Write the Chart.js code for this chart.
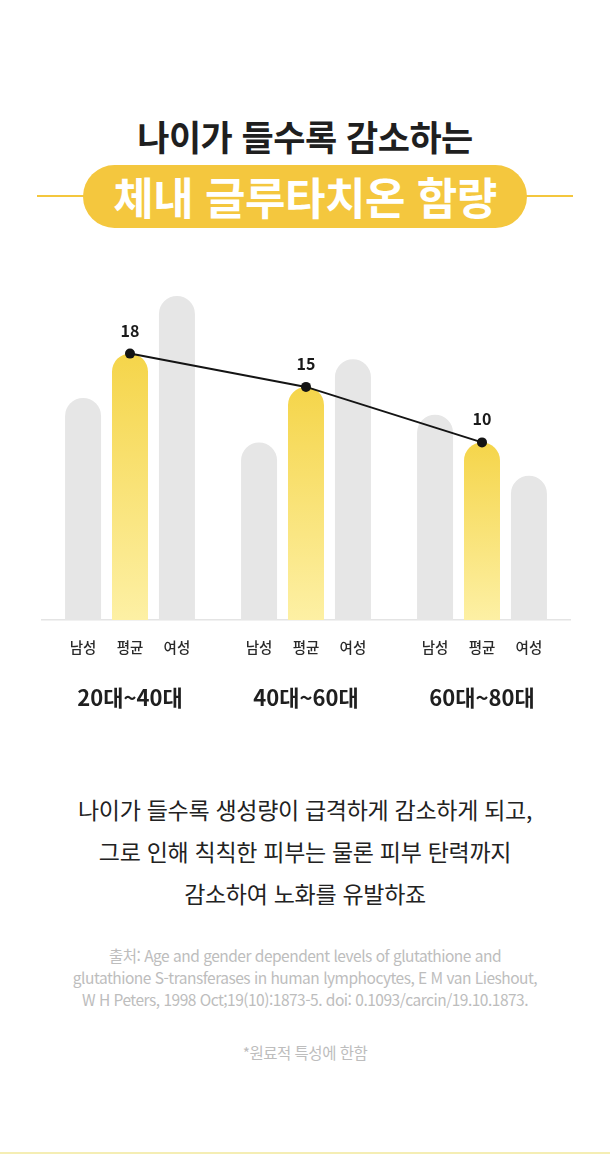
<!DOCTYPE html>
<html lang="ko">
<head>
<meta charset="utf-8">
<script src="https://cdn.jsdelivr.net/npm/chart.js@4.4.1/dist/chart.umd.min.js"></script>
<style>
  html, body { margin: 0; padding: 0; background: #fff; }
  body { width: 610px; height: 1154px; position: relative; overflow: hidden;
         font-family: "Noto Sans CJK KR", "Noto Sans", sans-serif; color: #222; }
  .title { position: absolute; top: 113px; left: 0; width: 610px; text-align: center;
           font-size: 35px; font-weight: 700; letter-spacing: -0.5px; line-height: 46px; color: #1f1f1f; }
  .rule { position: absolute; top: 195px; height: 2px; background: #f4c73e; }
  .pill { position: absolute; top: 165px; left: 83px; width: 444px; height: 63px; border-radius: 32px;
          background: #f4c73e; color: #fff; text-align: center; font-size: 44px; font-weight: 700;
          line-height: 63px; letter-spacing: -0.5px; }
  #wrap { position: absolute; top: 260px; left: 0; width: 610px; height: 470px; }
  .body { position: absolute; top: 788px; left: 0; width: 610px; text-align: center;
          font-size: 23px; line-height: 42px; letter-spacing: -0.3px; color: #222; }
  .src { position: absolute; top: 944px; left: 0; width: 610px; text-align: center;
         font-size: 15.5px; line-height: 22px; letter-spacing: -0.5px; color: #bdbdbd; }
  .note { position: absolute; top: 1041px; left: 0; width: 610px; text-align: center;
          font-size: 15.5px; line-height: 22px; letter-spacing: -0.5px; color: #bdbdbd; }
  .bottom { position: absolute; top: 1152px; left: 0; width: 610px; height: 2px; background: #f5eeb4; }
</style>
</head>
<body>
<div class="title">나이가 들수록 감소하는</div>
<div class="rule" style="left:37px;width:48px"></div>
<div class="rule" style="left:525px;width:48px"></div>
<div class="pill">체내 글루타치온 함량</div>

<div id="wrap"><canvas id="chart" width="610" height="470"></canvas></div>

<div class="body">나이가 들수록 생성량이 급격하게 감소하게 되고,<br>그로 인해 칙칙한 피부는 물론 피부 탄력까지<br>감소하여 노화를 유발하죠</div>
<div class="src">출처: Age and gender dependent levels of glutathione and<br>glutathione S-transferases in human lymphocytes, E M van Lieshout,<br>W H Peters, 1998 Oct;19(10):1873-5. doi: 0.1093/carcin/19.10.1873.</div>
<div class="note">*원료적 특성에 한함</div>
<div class="bottom"></div>

<script>
// 연령대
const ageGroups = ['20대~40대', '40대~60대', '60대~80대']
// 막대 값
const maleValues = [14, 10, 12.5]
const avgValues = [18, 15, 10]
const femaleValues = [23.2, 17.5, 7]
const barNames = ['남성', '평균', '여성']

const axisMin = -6
const axisMax = 24

const gray = '#e6e6e6'

function avgGradient(context) {
    const chart = context.chart
    const { ctx, chartArea, scales } = chart
    if (!chartArea || !context.parsed) return '#f7dc62'
    const top = scales.y.getPixelForValue(context.parsed.y)
    const g = ctx.createLinearGradient(0, top, 0, chartArea.bottom)
    g.addColorStop(0, '#f5d54a')
    g.addColorStop(1, '#fdf0a4')
    return g
}

/*라벨 그리기*/
const labelPlugin = {
    id: 'labels',
    afterDatasetsDraw(chart) {
        const { ctx, chartArea } = chart
        ctx.save()
        ctx.textAlign = 'center'
        ctx.textBaseline = 'middle'
        // 막대 아래 이름
        ctx.font = '500 14.5px "Noto Sans CJK KR"'
        ctx.fillStyle = '#2a2a2a'
        chart.data.datasets.forEach((ds, i) => {
            if (ds.type === 'line') return
            chart.getDatasetMeta(i).data.forEach(bar => {
                ctx.fillText(ds.label, bar.x, chartArea.bottom + 27)
            })
        })
        // 꺾은선 값
        ctx.font = '600 16px "Noto Sans CJK KR"'
        ctx.fillStyle = '#1a1a1a'
        const lineIdx = chart.data.datasets.findIndex(ds => ds.type === 'line')
        chart.getDatasetMeta(lineIdx).data.forEach((pt, j) => {
            ctx.fillText(chart.data.datasets[lineIdx].data[j], pt.x, pt.y - 23)
        })
        ctx.restore()
    }
}

const barCommon = {
    type: 'bar',
    base: axisMin,
    borderRadius: 18,
    borderSkipped: 'start',
    barPercentage: 0.767,
    categoryPercentage: 0.8,
    order: 2
}

new Chart(document.getElementById('chart'), {
    data: {
        labels: ageGroups,
        datasets: [
            {
                type: 'line',
                label: '평균 추이',
                data: avgValues,
                borderColor: '#141414',
                borderWidth: 2,
                pointRadius: 5,
                pointBackgroundColor: '#141414',
                pointBorderWidth: 0,
                tension: 0,
                order: 0
            },
            Object.assign({}, barCommon, { label: barNames[0], data: maleValues, backgroundColor: gray }),
            Object.assign({}, barCommon, { label: barNames[1], data: avgValues, backgroundColor: avgGradient }),
            Object.assign({}, barCommon, { label: barNames[2], data: femaleValues, backgroundColor: gray })
        ]
    },
    options: {
        responsive: false,
        animation: false,
        layout: { padding: { left: 42, right: 40, top: 27, bottom: 0 } },
        plugins: {
            legend: { display: false },
            tooltip: { enabled: false }
        },
        scales: {
            y: { display: false, min: axisMin, max: axisMax },
            x: {
                grid: { display: false, drawTicks: false },
                border: { display: true, color: '#e4e4e4', width: 1.5 },
                afterFit: scale => { scale.height = 110 },
                ticks: {
                    padding: 64,
                    color: '#1f1f1f',
                    font: { family: '"Noto Sans CJK KR"', size: 22, weight: '700' }
                }
            }
        }
    },
    plugins: [labelPlugin]
})
</script>
</body>
</html>
